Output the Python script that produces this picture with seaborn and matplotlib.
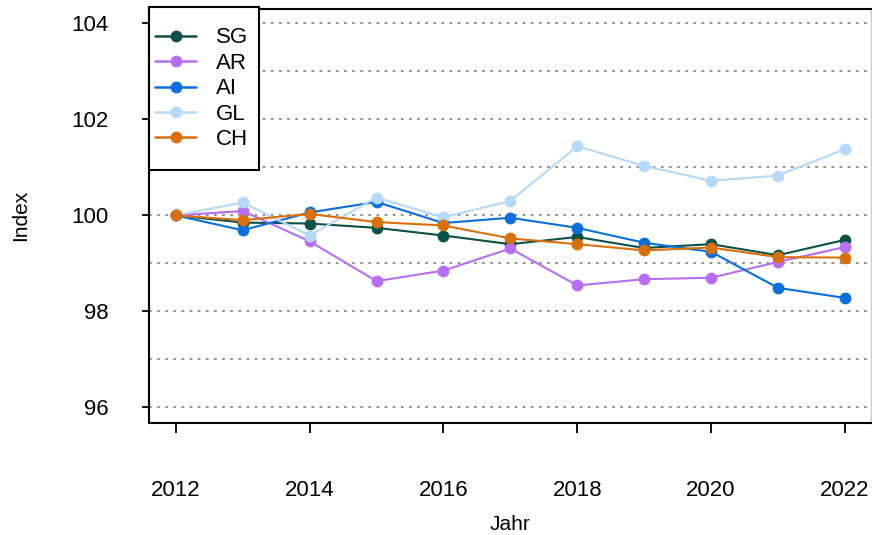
import matplotlib
matplotlib.use('Agg')
import matplotlib.pyplot as plt
from matplotlib.patches import Rectangle
from matplotlib.ticker import MultipleLocator
import numpy as np
import pandas as pd
import seaborn as sns

# Index values per region (2012 = 100)
years = list(range(2012, 2023))
regions = ["SG", "AR", "AI", "GL", "CH"]
sg = [100.0, 99.85, 99.83, 99.74, 99.58, 99.40, 99.55, 99.32, 99.40, 99.17, 99.49]
ar = [100.0, 100.09, 99.46, 98.63, 98.85, 99.31, 98.54, 98.67, 98.70, 99.03, 99.34]
ai = [100.0, 99.69, 100.06, 100.28, 99.84, 99.95, 99.74, 99.43, 99.24, 98.49, 98.28]
gl = [100.0, 100.27, 99.58, 100.37, 99.96, 100.30, 101.44, 101.03, 100.72, 100.83, 101.38]
ch = [100.0, 99.90, 100.03, 99.86, 99.79, 99.52, 99.40, 99.27, 99.33, 99.13, 99.12]
colors = ["#0b5049", "#b76ef5", "#0a6fdc", "#b5d9fb", "#d9700c"]

df = pd.DataFrame({
    "Jahr": years * 5,
    "Index": sg + ar + ai + gl + ch,
    "Region": [r for r in regions for _ in years],
})

sns.set_style("white")
plt.rcParams['font.family'] = ['Liberation Sans', 'DejaVu Sans']
plt.rcParams['text.color'] = 'black'
plt.rcParams['axes.labelcolor'] = 'black'
plt.rcParams['xtick.color'] = 'black'
plt.rcParams['ytick.color'] = 'black'

fig = plt.figure(figsize=(8.72, 5.35), dpi=100)
ax = fig.add_axes([149 / 872, (535 - 422.7) / 535, (871 - 149) / 872, (422.7 - 9) / 535])

sns.lineplot(data=df, x="Jahr", y="Index", hue="Region", hue_order=regions,
             palette=colors, marker="o", markersize=8.5, markeredgewidth=0,
             linewidth=1.5, ax=ax, zorder=3)

ax.set_xlim(2011.6, 2022.39)
ax.set_ylim(95.68, 104.30)
ax.set_xticks(range(2012, 2023, 2))
ax.set_yticks(range(96, 105, 2))
ax.yaxis.set_minor_locator(MultipleLocator(1))
ax.tick_params(which='minor', length=0)
ax.tick_params(axis='x', which='major', direction='out', length=7, width=1.3,
               pad=34, labelsize=16, bottom=True)
ax.tick_params(axis='y', which='major', direction='out', length=5, width=1.3,
               pad=24, labelsize=16, left=True)
ax.grid(axis='y', which='both', linestyle=(0, (1.5, 3)), color='#888888', linewidth=1.3)
ax.set_axisbelow(True)

for s in ax.spines.values():
    s.set_color('black')
    s.set_linewidth(1.5)
ax.spines['right'].set_color('#cccccc')
ax.spines['right'].set_linewidth(1)

ax.set_xlabel("Jahr", fontsize=15, labelpad=10)
ax.set_ylabel("Index", fontsize=15, labelpad=30)

# legend box drawn separately so the padding can match the original
box = Rectangle((0, 0.611), 0.1524, 0.389 + 0.005, transform=ax.transAxes,
                facecolor='white', edgecolor='black', linewidth=1.5,
                clip_on=False, zorder=4)
ax.add_patch(box)

leg = ax.legend(loc='upper left', bbox_to_anchor=(0.0083, 0.9555), borderaxespad=0,
                borderpad=0, fontsize=16, frameon=False, handlelength=1.85,
                handletextpad=0.9, labelspacing=0.2, title=None)
for line in leg.get_lines():
    line.set_linewidth(1.8)
leg.set_zorder(5)

fig.savefig("out.png", dpi=100)
